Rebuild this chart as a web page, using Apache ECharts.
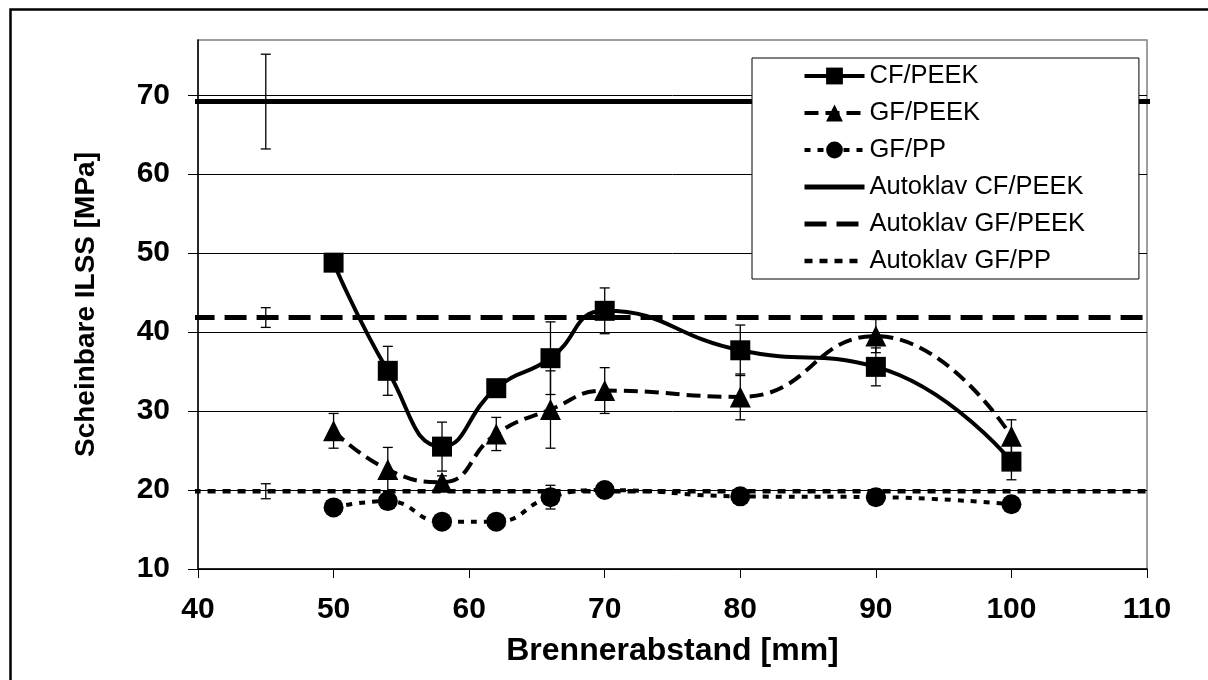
<!DOCTYPE html>
<html>
<head>
<meta charset="utf-8">
<title>Scheinbare ILSS über Brennerabstand</title>
<script src="https://cdn.jsdelivr.net/npm/echarts@6/dist/echarts.min.js"></script>
<style>
  html, body { margin: 0; padding: 0; background: #fff; }
  #chart { width: 1208px; height: 680px; }
</style>
</head>
<body>
<div id="chart"></div>
<script>
// Brennerabstand [mm]
const distances = [50, 54, 58, 62, 66, 70, 80, 90, 100];

// Scheinbare ILSS [MPa] with standard deviations
const cfPeek    = [48.8, 35.1, 25.5, 32.9, 36.7, 42.7, 37.7, 35.6, 23.6];
const cfPeekSd  = [0.8, 3.1, 3.1, 0.8, 4.6, 2.9, 3.2, 2.4, 2.3];
const gfPeek    = [27.5, 22.6, 21.0, 27.1, 30.2, 32.6, 31.8, 39.5, 26.8];
const gfPeekSd  = [2.2, 2.8, 0.8, 2.1, 4.9, 2.9, 2.9, 2.1, 2.1];
const gfPp      = [17.8, 18.6, 16.0, 16.0, 19.1, 20.0, 19.2, 19.1, 18.2];
const gfPpSd    = [0.5, 0.5, 0.5, 0.5, 1.5, 0.5, 0.5, 0.5, 0.5];

// Autoklav reference values (mean, standard deviation), error bar drawn at x = 45
const autoklavNames = ['Autoklav CF/PEEK', 'Autoklav GF/PEEK', 'Autoklav GF/PP'];
const autoklavMean  = [69.2, 41.85, 19.85];
const autoklavSd    = [6.0, 1.25, 0.95];
const autoklavErrX  = 45;
const autoklavSpan  = [39.6, 110.3];

const xTicks = [40, 50, 60, 70, 80, 90, 100, 110];
const yTicks = [10, 20, 30, 40, 50, 60, 70];

const FONT = '"Liberation Sans", Arial, Helvetica, sans-serif';

const pairs = (xs, ys) => xs.map((x, i) => [x, ys[i]]);
const bars = (xs, ys, sd) => xs.map((x, i) => [x, ys[i] - sd[i], ys[i] + sd[i]]);

function renderErrorBar(params, api) {
  const x = api.value(0);
  const lo = api.coord([x, api.value(1)]);
  const hi = api.coord([x, api.value(2)]);
  const cap = 5;
  const style = { stroke: '#000', lineWidth: 1.3 };
  return {
    type: 'group',
    children: [
      { type: 'line', shape: { x1: lo[0], y1: lo[1], x2: hi[0], y2: hi[1] }, style },
      { type: 'line', shape: { x1: lo[0] - cap, y1: lo[1], x2: lo[0] + cap, y2: lo[1] }, style },
      { type: 'line', shape: { x1: hi[0] - cap, y1: hi[1], x2: hi[0] + cap, y2: hi[1] }, style }
    ]
  };
}

function errorSeries(data) {
  return {
    type: 'custom',
    renderItem: renderErrorBar,
    data: data,
    encode: { x: 0, y: [1, 2] },
    z: 3,
    silent: true,
    clip: false
  };
}

const autoklavStyles = [
  { width: 5, type: 'solid' },
  { width: 5, type: [22, 10] },
  { width: 4.5, type: [8, 7] }
];

const series = [
  errorSeries(bars(distances, cfPeek, cfPeekSd)),
  errorSeries(bars(distances, gfPeek, gfPeekSd)),
  errorSeries(bars(distances, gfPp, gfPpSd)),
  errorSeries(autoklavMean.map((m, i) => [autoklavErrX, m - autoklavSd[i], m + autoklavSd[i]])),
  {
    name: 'CF/PEEK', type: 'line', data: pairs(distances, cfPeek), smooth: 0.5,
    symbol: 'rect', symbolSize: 20, z: 4,
    lineStyle: { color: '#000', width: 4 }, itemStyle: { color: '#000' }
  },
  {
    name: 'GF/PEEK', type: 'line', data: pairs(distances, gfPeek), smooth: 0.5,
    symbol: 'triangle', symbolSize: 21, z: 4,
    lineStyle: { color: '#000', width: 4, type: [14, 7] }, itemStyle: { color: '#000' }
  },
  {
    name: 'GF/PP', type: 'line', data: pairs(distances, gfPp), smooth: 0.5,
    symbol: 'circle', symbolSize: 20, z: 4,
    lineStyle: { color: '#000', width: 4, type: [6, 7] }, itemStyle: { color: '#000' }
  }
];

autoklavNames.forEach((name, i) => {
  series.push({
    name: name, type: 'line', symbol: 'none', clip: false, z: 5,
    data: autoklavSpan.map(x => [x, autoklavMean[i]]),
    lineStyle: Object.assign({ color: '#000' }, autoklavStyles[i]),
    // no marker for the reference lines, so the legend icon shows the line only
    itemStyle: { color: 'transparent', borderWidth: 0 }
  });
});

const chart = echarts.init(document.getElementById('chart'), null, { renderer: 'canvas' });

chart.setOption({
  animation: false,
  backgroundColor: '#fff',
  textStyle: { fontFamily: FONT, color: '#000' },
  grid: {
    left: 198, right: 61, top: 40, bottom: 111,
    show: true, borderColor: '#808080', borderWidth: 1.5, backgroundColor: 'transparent',
    containLabel: false, outerBoundsMode: 'none'
  },
  graphic: [{
    type: 'rect', left: 8, top: 7, silent: true, z: 100,
    shape: { width: 1220, height: 700 },
    style: { fill: 'none', stroke: '#000', lineWidth: 2.5 }
  }],
  legend: {
    data: ['CF/PEEK', 'GF/PEEK', 'GF/PP'].concat(autoklavNames),
    orient: 'vertical', left: 752, top: 58,
    padding: [5, 54, 5, 50],
    itemWidth: 60, itemHeight: 21, itemGap: 11,
    lineStyle: { width: 'inherit', type: 'inherit' },
    backgroundColor: '#fff', borderColor: '#000', borderWidth: 1, borderRadius: 0,
    textStyle: { fontFamily: FONT, fontSize: 25.5, color: '#000' },
    z: 20, selectedMode: false
  },
  xAxis: {
    type: 'value', min: 40, max: 110, interval: 10,
    name: 'Brennerabstand [mm]', nameLocation: 'middle', nameGap: 66,
    nameTextStyle: { fontFamily: FONT, fontSize: 32, fontWeight: 'bold', color: '#000' },
    axisLine: { show: true, lineStyle: { color: '#000', width: 1.5 } },
    axisTick: { show: true, inside: false, length: 9, lineStyle: { color: '#000', width: 1 }, customValues: xTicks },
    axisLabel: { margin: 26, fontFamily: FONT, fontSize: 30, fontWeight: 'bold', color: '#000', customValues: xTicks },
    splitLine: { show: false }
  },
  yAxis: {
    type: 'value', min: 10, max: 77, interval: 10,
    name: 'Scheinbare ILSS [MPa]', nameLocation: 'middle', nameGap: 98,
    nameTextStyle: { fontFamily: FONT, fontSize: 28, fontWeight: 'bold', color: '#000' },
    axisLine: { show: true, lineStyle: { color: '#000', width: 1.5 } },
    axisTick: { show: true, inside: false, length: 10, lineStyle: { color: '#000', width: 1 }, customValues: yTicks },
    axisLabel: { margin: 28, fontFamily: FONT, fontSize: 30, fontWeight: 'bold', color: '#000', customValues: yTicks },
    splitLine: { show: true, lineStyle: { color: '#000', width: 1 } }
  },
  series: series
});
</script>
</body>
</html>
